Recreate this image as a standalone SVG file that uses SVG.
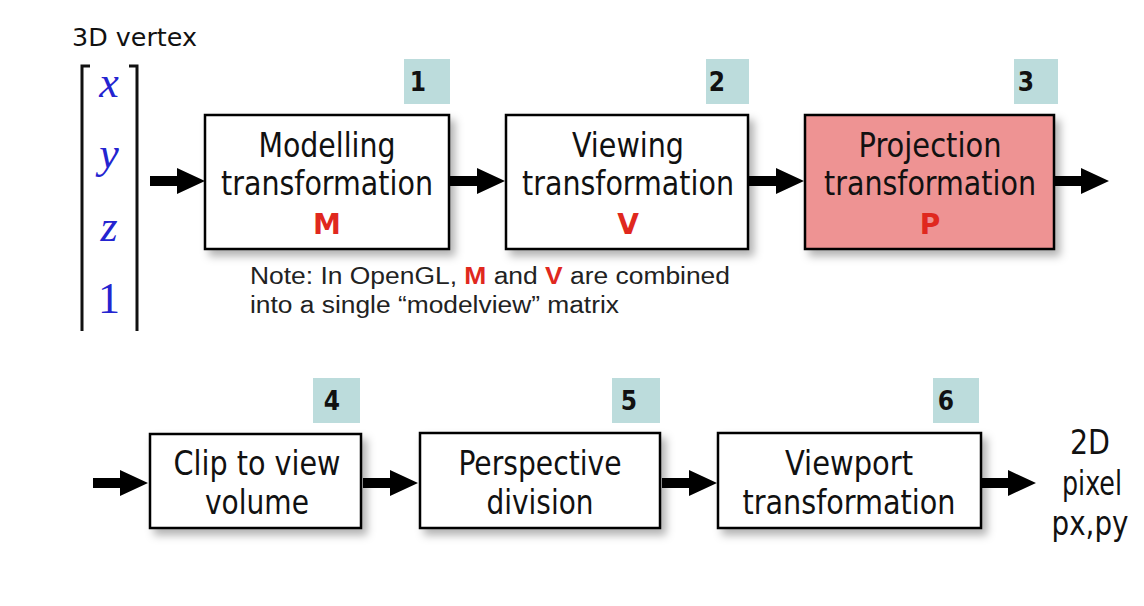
<svg xmlns="http://www.w3.org/2000/svg" width="1144" height="606" viewBox="0 0 1144 606">
<style>
.box{fill:#fff;stroke:#000;stroke-width:2.5;filter:url(#sh)}
.pink{fill:#ee9393}
.badge{fill:#bcdcdc}
.num{font-family:"DejaVu Sans Condensed","DejaVu Sans",sans-serif;font-stretch:condensed;font-weight:bold;font-size:26px;fill:#111;text-anchor:middle}
.lbl{font-family:"DejaVu Sans Condensed","DejaVu Sans",sans-serif;font-stretch:condensed;font-size:33px;fill:#111;text-anchor:middle}
.red{font-family:"DejaVu Sans",sans-serif;font-weight:bold;font-size:28px;fill:#e0281e;text-anchor:middle}
.note{font-family:"Liberation Sans",Arial,sans-serif;font-size:23px;fill:#222}
.nr{fill:#e0281e;font-weight:bold}
.vec{font-family:"Liberation Serif","Times New Roman",serif;font-style:italic;font-size:44px;fill:#2424d0;text-anchor:middle}
</style>
<defs>
<filter id="sh" x="-10%" y="-10%" width="130%" height="140%">
<feDropShadow dx="5" dy="6" stdDeviation="4" flood-color="#000" flood-opacity="0.3"/>
</filter>
<path id="arr" d="M0,-5 H27 V-13 L55,0 L27,13 V5 H0 Z"/>
</defs>
<rect width="1144" height="606" fill="#fff"/>

<g id="vertex">
<text x="72" y="46" font-family="'DejaVu Sans',sans-serif" font-size="24" fill="#111" textLength="125" lengthAdjust="spacingAndGlyphs">3D vertex</text>
<path d="M90,66 H82 V331 M129,66 H137 V331" fill="none" stroke="#111" stroke-width="3"/>
<text class="vec" x="109" y="97">x</text>
<text class="vec" x="109" y="168">y</text>
<text class="vec" x="109" y="241">z</text>
<text class="vec" x="109" y="313" style="font-style:normal">1</text>
</g>

<g id="connectors">
<use href="#arr" x="150" y="181"/>
<use href="#arr" x="450" y="181"/>
<use href="#arr" x="749" y="181"/>
<use href="#arr" x="1054" y="181"/>
<use href="#arr" x="93" y="483"/>
<use href="#arr" x="363" y="483"/>
<use href="#arr" x="662" y="483"/>
<use href="#arr" x="981" y="483"/>
</g>

<g id="n1">
<rect class="badge" x="404" y="59" width="46" height="45"/>
<text class="num" x="418" y="91">1</text>
<rect class="box" x="205" y="115" width="244" height="134"/>
<text class="lbl" x="327" y="157" textLength="137" lengthAdjust="spacingAndGlyphs">Modelling</text>
<text class="lbl" x="327" y="195" textLength="212" lengthAdjust="spacingAndGlyphs">transformation</text>
<text class="red" x="327" y="234">M</text>
</g>

<g id="n2">
<rect class="badge" x="706" y="59" width="43" height="45"/>
<text class="num" x="717" y="91">2</text>
<rect class="box" x="506" y="115" width="242" height="134"/>
<text class="lbl" x="628" y="157" textLength="112" lengthAdjust="spacingAndGlyphs">Viewing</text>
<text class="lbl" x="628" y="195" textLength="212" lengthAdjust="spacingAndGlyphs">transformation</text>
<text class="red" x="628" y="234">V</text>
</g>

<g id="n3">
<rect class="badge" x="1014" y="59" width="44" height="45"/>
<text class="num" x="1026" y="91">3</text>
<rect class="box pink" x="805" y="115" width="249" height="134"/>
<text class="lbl" x="930" y="157" textLength="143" lengthAdjust="spacingAndGlyphs">Projection</text>
<text class="lbl" x="930" y="195" textLength="212" lengthAdjust="spacingAndGlyphs">transformation</text>
<text class="red" x="930" y="234">P</text>
</g>

<g id="note">
<text class="note" x="250" y="284" textLength="480" lengthAdjust="spacingAndGlyphs">Note: In OpenGL, <tspan class="nr">M</tspan> and <tspan class="nr">V</tspan> are combined</text>
<text class="note" x="250" y="313" textLength="369" lengthAdjust="spacingAndGlyphs">into a single “modelview” matrix</text>
</g>

<g id="n4">
<rect class="badge" x="313" y="378" width="47" height="45"/>
<text class="num" x="332" y="410">4</text>
<rect class="box" x="150" y="434" width="211" height="94"/>
<text class="lbl" x="257" y="475" textLength="167" lengthAdjust="spacingAndGlyphs">Clip to view</text>
<text class="lbl" x="257" y="514" textLength="104" lengthAdjust="spacingAndGlyphs">volume</text>
</g>

<g id="n5">
<rect class="badge" x="612" y="378" width="48" height="45"/>
<text class="num" x="629" y="410">5</text>
<rect class="box" x="420" y="433" width="240" height="95"/>
<text class="lbl" x="540" y="475" textLength="163" lengthAdjust="spacingAndGlyphs">Perspective</text>
<text class="lbl" x="540" y="514" textLength="107" lengthAdjust="spacingAndGlyphs">division</text>
</g>

<g id="n6">
<rect class="badge" x="933" y="378" width="46" height="45"/>
<text class="num" x="946" y="410">6</text>
<rect class="box" x="718" y="433" width="263" height="95"/>
<text class="lbl" x="849" y="475" textLength="128" lengthAdjust="spacingAndGlyphs">Viewport</text>
<text class="lbl" x="849" y="514" textLength="213" lengthAdjust="spacingAndGlyphs">transformation</text>
</g>

<g id="out">
<text class="lbl" x="1090" y="454" textLength="40" lengthAdjust="spacingAndGlyphs">2D</text>
<text class="lbl" x="1092" y="495" textLength="60" lengthAdjust="spacingAndGlyphs">pixel</text>
<text class="lbl" x="1090" y="535" textLength="77" lengthAdjust="spacingAndGlyphs">px,py</text>
</g>
</svg>
